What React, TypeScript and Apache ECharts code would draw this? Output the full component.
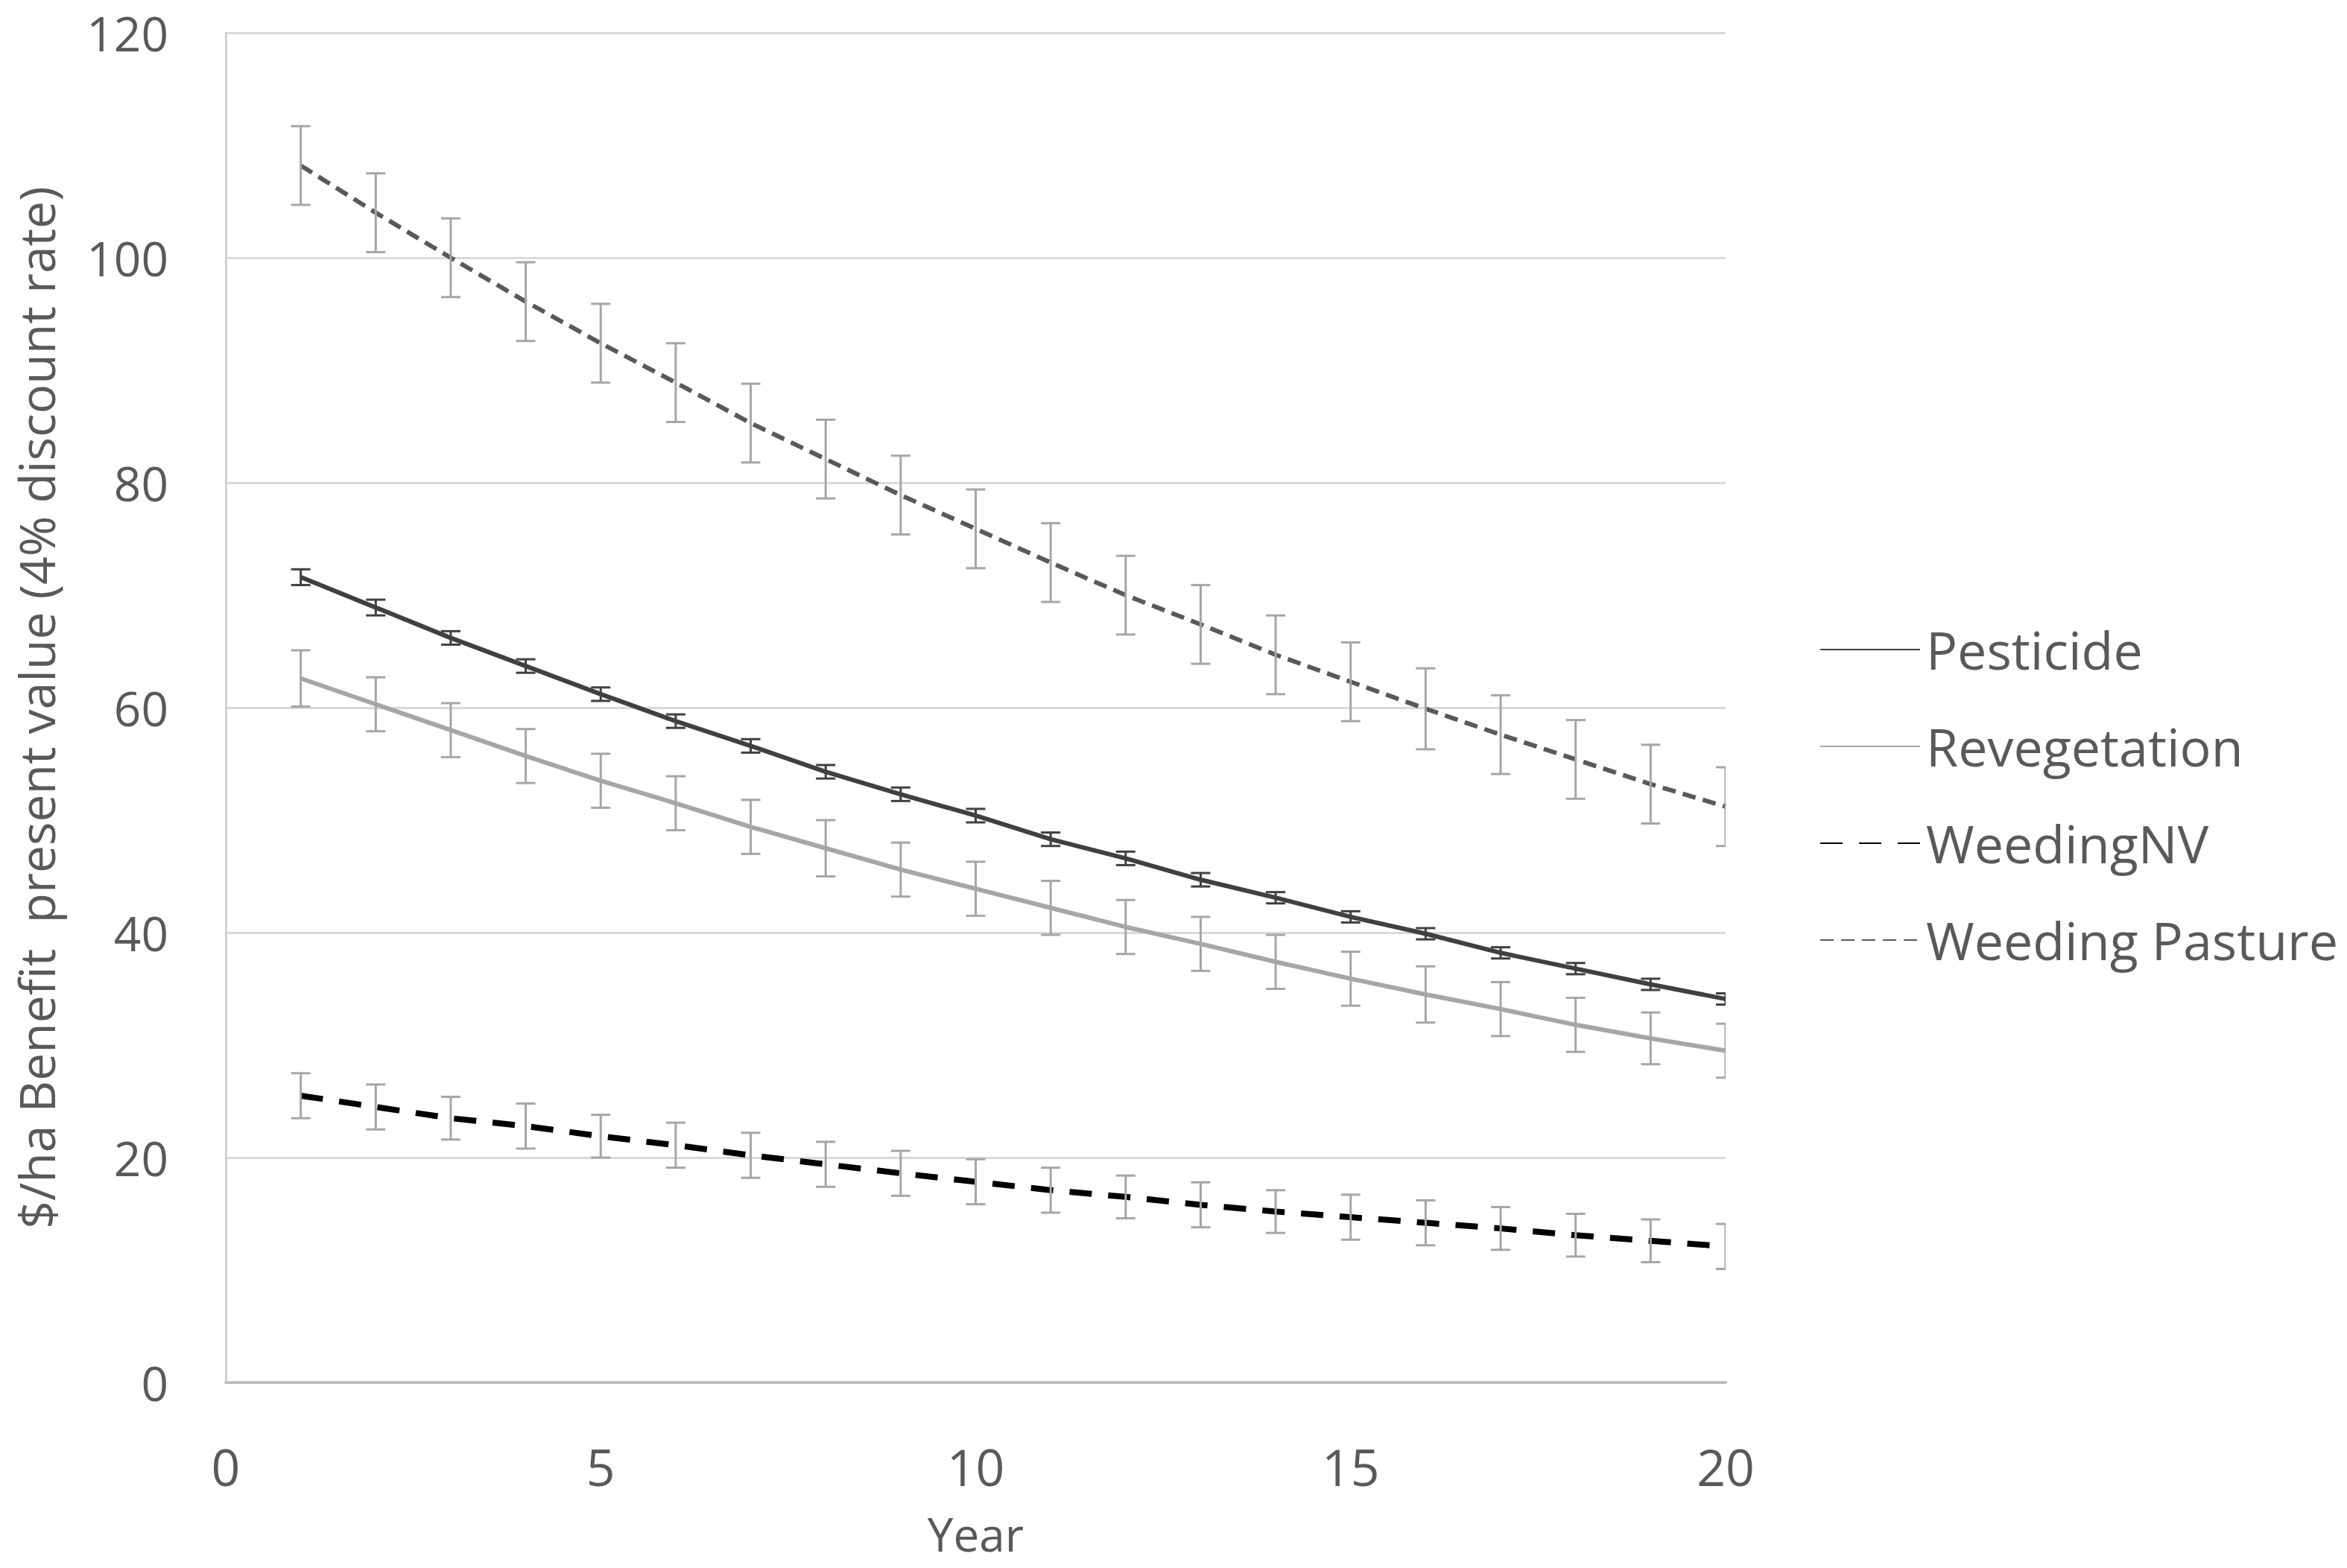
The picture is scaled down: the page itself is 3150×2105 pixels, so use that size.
import React, { useEffect, useRef } from "react";
import * as echarts from "echarts";

const years = [1, 2, 3, 4, 5, 6, 7, 8, 9, 10, 11, 12, 13, 14, 15, 16, 17, 18, 19, 20];

const pesticide = [71.6, 68.9, 66.2, 63.7, 61.2, 58.8, 56.6, 54.3, 52.3, 50.4, 48.3, 46.6, 44.7, 43.1, 41.4, 39.9, 38.2, 36.8, 35.4, 34.1];
const pesticideErr = [0.7, 0.7, 0.6, 0.6, 0.6, 0.6, 0.6, 0.6, 0.6, 0.6, 0.6, 0.6, 0.6, 0.5, 0.5, 0.5, 0.5, 0.5, 0.5, 0.5];

const revegetation = [62.6, 60.3, 58.0, 55.7, 53.5, 51.5, 49.4, 47.5, 45.6, 43.9, 42.2, 40.5, 39.0, 37.4, 35.9, 34.5, 33.2, 31.8, 30.6, 29.5];
const revegetationErr = [2.5, 2.4, 2.4, 2.4, 2.4, 2.4, 2.4, 2.5, 2.4, 2.4, 2.4, 2.4, 2.4, 2.4, 2.4, 2.5, 2.4, 2.4, 2.3, 2.4];

const weedingNV = [25.5, 24.5, 23.5, 22.8, 21.9, 21.1, 20.2, 19.4, 18.6, 17.85, 17.1, 16.5, 15.8, 15.2, 14.7, 14.2, 13.7, 13.1, 12.6, 12.1];
const weedingNVErr = [2.0, 2.0, 1.9, 2.0, 1.9, 2.0, 2.0, 2.0, 2.0, 2.0, 2.0, 1.9, 2.0, 1.9, 2.0, 2.0, 1.9, 1.9, 1.9, 2.0];

const weedingPasture = [108.2, 104.0, 100.0, 96.1, 92.4, 88.9, 85.3, 82.1, 78.9, 75.9, 72.9, 70.0, 67.4, 64.7, 62.3, 59.9, 57.6, 55.4, 53.2, 51.2];
const weedingPastureErr = [3.5, 3.5, 3.5, 3.5, 3.5, 3.5, 3.5, 3.5, 3.5, 3.5, 3.5, 3.5, 3.5, 3.5, 3.5, 3.6, 3.5, 3.5, 3.5, 3.5];

const seriesNames = ["Pesticide", "Revegetation", "WeedingNV", "Weeding Pasture"];
const xTicks = [0, 5, 10, 15, 20];
const yTicks = [0, 20, 40, 60, 80, 100, 120];

const FONT = "'Open Sans', 'Noto Sans', sans-serif";
const TEXT_COLOR = "#595959";

function pairs(vals: number[]) {
  return years.map((y, i) => [y, vals[i]]);
}
function errPairs(vals: number[], errs: number[]) {
  return years.map((y, i) => [y, vals[i] - errs[i], vals[i] + errs[i]]);
}

function errorSeries(vals: number[], errs: number[], color: string) {
  return {
    type: "custom",
    clip: true,
    silent: true,
    z: 5,
    data: errPairs(vals, errs),
    renderItem: (params: any, api: any) => {
      const x = api.value(0);
      const lo = api.value(1);
      const hi = api.value(2);
      const pt = api.coord([x, hi]);
      const pb = api.coord([x, lo]);
      const hw = 13;
      const style = { stroke: color, lineWidth: 3 };
      return {
        type: "group",
        children: [
          { type: "line", shape: { x1: pt[0], y1: pt[1], x2: pb[0], y2: pb[1] }, style },
          { type: "line", shape: { x1: pt[0] - hw, y1: pt[1], x2: pt[0] + hw, y2: pt[1] }, style },
          { type: "line", shape: { x1: pb[0] - hw, y1: pb[1], x2: pb[0] + hw, y2: pb[1] }, style },
        ],
      };
    },
  };
}

export default function App() {
  const ref = useRef<HTMLDivElement>(null);
  useEffect(() => {
    if (!ref.current) return;
    const chart = echarts.init(ref.current, undefined, { renderer: "svg" });
    chart.setOption({
      animation: false,
      backgroundColor: "#ffffff",
      textStyle: { fontFamily: FONT },
      grid: { left: 303, right: 834, top: 44, bottom: 249, containLabel: false },
      legend: {
        data: seriesNames,
        orient: "vertical",
        left: 2437,
        top: 832,
        itemWidth: 134,
        itemHeight: 20,
        itemGap: 60,
        itemStyle: { opacity: 0 },
        textStyle: { fontFamily: FONT, fontSize: 70, color: TEXT_COLOR, lineHeight: 70, padding: [0, 0, 0, 3] },
      },
      xAxis: {
        type: "value",
        min: xTicks[0],
        max: xTicks[xTicks.length - 1],
        interval: 5,
        name: "Year",
        nameLocation: "middle",
        nameGap: 172,
        nameTextStyle: { fontFamily: FONT, fontSize: 62, color: TEXT_COLOR, lineHeight: 62 },
        axisLine: { show: true, lineStyle: { color: "#bfbfbf", width: 4 } },
        axisTick: { show: false },
        splitLine: { show: false },
        axisLabel: { fontFamily: FONT, fontSize: 68, color: TEXT_COLOR, margin: 78 },
      },
      yAxis: {
        type: "value",
        min: yTicks[0],
        max: yTicks[yTicks.length - 1],
        interval: 20,
        name: "$/ha Benefit  present value (4% discount rate)",
        nameLocation: "middle",
        nameGap: 222,
        nameTextStyle: { fontFamily: FONT, fontSize: 66, color: TEXT_COLOR, lineHeight: 66 },
        axisLine: { show: true, lineStyle: { color: "#d0d0d0", width: 3 } },
        axisTick: { show: false },
        splitLine: { show: true, lineStyle: { color: "#d9d9d9", width: 3 } },
        axisLabel: { fontFamily: FONT, fontSize: 64, color: TEXT_COLOR, margin: 77, lineHeight: 64 },
      },
      series: [
        {
          name: "Pesticide",
          type: "line",
          data: pairs(pesticide),
          symbol: "none",
          z: 3,
          lineStyle: { color: "#404040", width: 6, type: "solid" },
          itemStyle: { color: "#404040" },
        },
        {
          name: "Revegetation",
          type: "line",
          data: pairs(revegetation),
          symbol: "none",
          z: 3,
          lineStyle: { color: "#a6a6a6", width: 6, type: "solid" },
          itemStyle: { color: "#a6a6a6" },
        },
        {
          name: "WeedingNV",
          type: "line",
          data: pairs(weedingNV),
          symbol: "none",
          z: 3,
          lineStyle: { color: "#000000", width: 8, type: [30, 22] },
          itemStyle: { color: "#000000" },
        },
        {
          name: "Weeding Pasture",
          type: "line",
          data: pairs(weedingPasture),
          symbol: "none",
          z: 3,
          lineStyle: { color: "#595959", width: 6, type: [18, 10] },
          itemStyle: { color: "#595959" },
        },
        errorSeries(pesticide, pesticideErr, "#404040"),
        errorSeries(revegetation, revegetationErr, "#a6a6a6"),
        errorSeries(weedingNV, weedingNVErr, "#a6a6a6"),
        errorSeries(weedingPasture, weedingPastureErr, "#a6a6a6"),
      ],
    });
    return () => chart.dispose();
  }, []);
  return (
    <div
      ref={ref}
      style={{ position: "absolute", left: 0, top: 0, width: 3150, height: 2105, background: "#fff" }}
    />
  );
}
